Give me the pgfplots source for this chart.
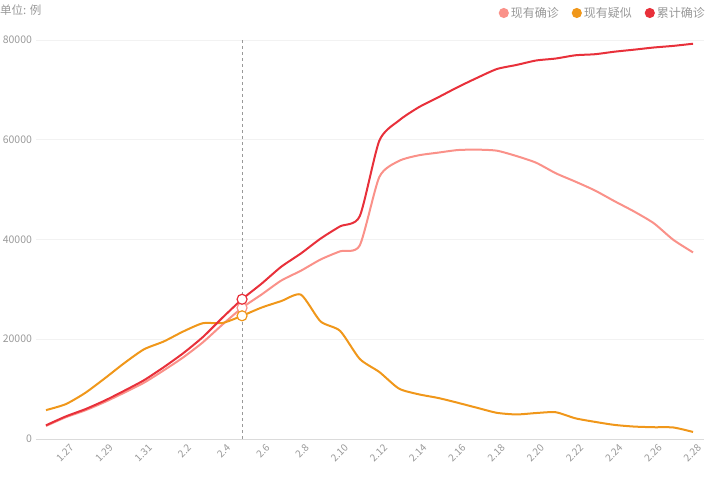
\documentclass[border=0pt]{standalone}
\usepackage{pgfplots}
\pgfplotsset{compat=1.18}
\usepackage{pgfplotstable}
\usepackage{fontspec}
\setmainfont{Noto Sans CJK SC}
\definecolor{cred}{HTML}{E8303A}
\definecolor{cpink}{HTML}{FA9189}
\definecolor{corange}{HTML}{F0971A}
\definecolor{txt}{HTML}{999999}
\definecolor{gridc}{HTML}{F2F2F2}
\pgfplotstableread{
idx cum cur sus
0 2744 2613 5794
1 4515 4349 6973
2 5974 5739 9239
3 7711 7417 12167
4 9692 9308 15238
5 11791 11289 17988
6 14380 13748 19544
7 17205 16369 21558
8 20438 19381 23214
9 24324 22942 23260
10 28018 26302 24702
11 31161 28985 26359
12 34546 31774 27657
13 37198 33738 28942
14 40171 35982 23589
15 42638 37626 21675
16 44653 38800 16067
17 59804 52526 13435
18 63851 55748 10109
19 66492 56873 8969
20 68500 57416 8228
21 70548 57934 7264
22 72436 58016 6242
23 74185 57805 5248
24 75002 56729 4922
25 75891 55391 5206
26 76288 53284 5365
27 76936 51606 4148
28 77150 49824 3434
29 77658 47672 2824
30 78064 45604 2491
31 78497 43258 2358
32 78824 39919 2308
33 79251 37414 1418
}\datatable
\begin{document}
\begin{tikzpicture}
\useasboundingbox (0,0) rectangle (716pt,483pt);
\node[anchor=west, text=txt, font=\fontsize{11.5}{13}\selectfont, inner sep=0pt] at (0pt,473pt) {单位: 例};
\begin{axis}[
  at={(36pt,44pt)}, anchor=south west,
  scale only axis, width=668pt, height=399pt,
  xmin=-0.51, xmax=33.56, ymin=0, ymax=80000,
  axis lines*=left,
  y axis line style={draw=none},
  x axis line style={draw=gridc!80!gray, line width=0.6pt},
  tick style={draw=none},
  ymajorgrids, grid style={draw=gridc, line width=0.6pt},
  ytick={0,20000,40000,60000,80000},
  scaled y ticks=false,
  /pgf/number format/assume math mode=true,
  yticklabel style={/pgf/number format/set thousands separator={}, text=txt, font=\fontsize{10.5}{12}\selectfont, xshift=-0.5pt},
  xtick={1,3,...,33},
  xticklabels={1.27,1.29,1.31,2.2,2.4,2.6,2.8,2.10,2.12,2.14,2.16,2.18,2.20,2.22,2.24,2.26,2.28},
  xticklabel style={rotate=45, anchor=north east, text=txt, font=\fontsize{10}{11}\selectfont, inner sep=0.5pt, yshift=-5pt, xshift=0pt},
  legend columns=-1,
  legend style={at={(axis description cs:1.009,1)}, anchor=south east, yshift=17pt, draw=none, fill=none, text=txt, font=\fontsize{12}{14}\selectfont, /tikz/every even column/.append style={column sep=11pt}},
  legend image code/.code={\fill[#1] (3pt,0pt) circle (4pt);},
  clip=false,
]
\addplot[cpink, line width=2pt, smooth, tension=0.4, no marks] table[x=idx, y=cur] {\datatable};
\addlegendentry{现有确诊}
\addplot[corange, line width=2pt, smooth, tension=0.4, no marks] table[x=idx, y=sus] {\datatable};
\addlegendentry{现有疑似}
\addplot[cred, line width=2pt, smooth, tension=0.4, no marks] table[x=idx, y=cum] {\datatable};
\addlegendentry{累计确诊}
\addplot[forget plot, gray!80, dashed, line width=0.6pt] coordinates {(10,0) (10,80000)};
\addplot[forget plot, only marks, mark=*, mark size=5pt, mark options={draw=cpink, fill=white, line width=1.2pt}] coordinates {(10,26302)};
\addplot[forget plot, only marks, mark=*, mark size=5pt, mark options={draw=corange, fill=white, line width=1.2pt}] coordinates {(10,24702)};
\addplot[forget plot, only marks, mark=*, mark size=5pt, mark options={draw=cred, fill=white, line width=1.2pt}] coordinates {(10,28018)};
\end{axis}
\end{tikzpicture}
\end{document}
